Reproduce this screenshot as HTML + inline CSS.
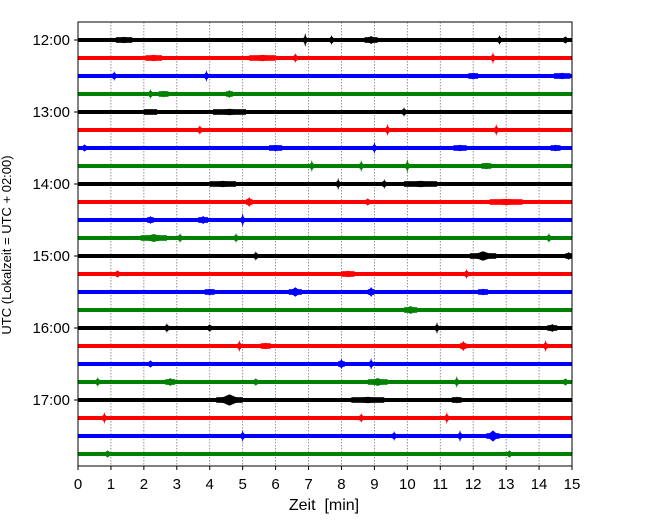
<!DOCTYPE html>
<html><head><meta charset="utf-8">
<style>
body{margin:0;background:#fff;}
svg{display:block;font-family:"Liberation Sans","DejaVu Sans",sans-serif;}
</style></head>
<body>
<svg id="c" width="650" height="520" viewBox="0 0 650 520">
<rect width="650" height="520" fill="#fff"/>
<g id="grid"></g>
<g id="traces"></g>
<rect x="78" y="22" width="494" height="444" fill="none" stroke="#000" stroke-width="1"/>
<g id="axes"></g>
<text x="324" y="510" text-anchor="middle" font-size="16">Zeit &#160;[min]</text>
<text transform="translate(11,245) rotate(-90)" text-anchor="middle" font-size="13">UTC (Lokalzeit = UTC + 02:00)</text>
</svg>
<script>
const rowLabels = ["12:00","13:00","14:00","15:00","16:00","17:00"];
const xTicks = [0,1,2,3,4,5,6,7,8,9,10,11,12,13,14,15];
const colors = ["#000000","#ff0000","#0000ff","#008000"];
// events per row: [minute, amplitude(px half-height), duration(min)]
const events = [
 [[1.4,4,0.5],[6.9,7,0.1],[7.7,5,0.1],[8.9,5,0.4],[12.8,5,0.1],[14.8,4,0.1]],
 [[2.3,4,0.5],[5.6,4,0.8],[6.6,5,0.1],[12.6,6,0.1]],
 [[1.1,5,0.1],[3.9,6,0.1],[12.0,4,0.3],[14.7,4,0.5]],
 [[2.2,5,0.1],[2.6,4,0.3],[4.6,4,0.2]],
 [[2.2,3,0.4],[4.6,4,1.0],[9.9,5,0.1]],
 [[3.7,5,0.1],[9.4,6,0.1],[12.7,6,0.1]],
 [[0.2,4,0.1],[6.0,4,0.4],[9.0,6,0.1],[11.6,4,0.4],[14.5,4,0.3]],
 [[7.1,6,0.1],[8.6,6,0.1],[10.0,7,0.1],[12.4,4,0.3]],
 [[4.4,4,0.8],[7.9,6,0.1],[9.3,5,0.1],[10.4,4,1.0]],
 [[5.2,5,0.2],[8.8,4,0.1],[13.0,4,1.0]],
 [[2.2,4,0.2],[3.8,5,0.3],[5.0,7,0.1]],
 [[2.3,5,0.8],[3.1,5,0.1],[4.8,5,0.1],[14.3,5,0.1]],
 [[5.4,5,0.1],[12.3,6,0.8],[14.9,4,0.2]],
 [[1.2,4,0.1],[8.2,4,0.4],[11.8,5,0.1]],
 [[4.0,4,0.3],[6.6,6,0.4],[8.9,5,0.2],[12.3,4,0.3]],
 [[10.1,5,0.4]],
 [[2.7,5,0.1],[4.0,4,0.1],[10.9,6,0.1],[14.4,5,0.3]],
 [[4.9,6,0.1],[5.7,4,0.3],[11.7,5,0.2],[14.2,6,0.1]],
 [[2.2,4,0.1],[8.0,5,0.2],[8.9,6,0.1]],
 [[0.6,5,0.1],[2.8,5,0.3],[5.4,4,0.1],[9.1,5,0.6],[11.5,6,0.1],[14.8,4,0.1]],
 [[4.6,7,0.8],[8.8,4,1.0],[11.5,4,0.3]],
 [[0.8,6,0.1],[8.6,5,0.1],[11.2,6,0.1]],
 [[5.0,6,0.1],[9.6,5,0.1],[11.6,6,0.1],[12.6,7,0.4]],
 [[0.9,4,0.1],[13.1,4,0.1]]
];
const NS="http://www.w3.org/2000/svg";
const X0=78,X1=572,Y0=40,ROW=18;
const xs=m=>X0+(m/15)*(X1-X0);
const ys=r=>Y0+r*ROW;
function mk(t,a,p){const e=document.createElementNS(NS,t);for(const k in a)e.setAttribute(k,a[k]);p.appendChild(e);return e;}
const grid=document.getElementById('grid'),tr=document.getElementById('traces'),ax=document.getElementById('axes');
xTicks.forEach(t=>{
 if(t>0&&t<15){const l=mk('line',{x1:xs(t),x2:xs(t),y1:22,y2:466,stroke:'#777','stroke-width':0.8,'stroke-dasharray':'1.5,1.5'},grid);
 
 }
 const tk=mk('line',{x1:xs(t),x2:xs(t),y1:466,y2:470,stroke:'#000'},ax);
 
 
 const tx=mk('text',{x:xs(t),y:489,'text-anchor':'middle','font-size':15},ax);tx.textContent=t;
 
 
});
rowLabels.forEach((s,i)=>{
 const y=ys(i*4);
 const tk=mk('line',{x1:74,x2:78,y1:y,y2:y,stroke:'#000'},ax);
 
 
 const tx=mk('text',{x:70,y:y+5,'text-anchor':'end','font-size':15},ax);tx.textContent=s;
 
 
});
events.forEach((ev,r)=>{
 const c=colors[r%4],y=ys(r);
 const g=mk('g',{fill:c},tr);
 
 
 mk('rect',{x:X0,y:y-2,width:X1-X0,height:4},g);
 ev.forEach(e=>{
  const x=xs(e[0]),w=Math.max(2,(e[2]/15)*(X1-X0));
  const a=e[2]>0.25?e[1]*0.8:e[1];
  const p=mk('polygon',{points:`${x-w/2},${y} ${x},${y-a} ${x+w/2},${y} ${x},${y+a}`},g);
  
  
  mk('rect',{x:x-w/2,y:y-3,width:w,height:6,'fill-opacity':0.8},g);
 });
});
</script>
</body></html>
